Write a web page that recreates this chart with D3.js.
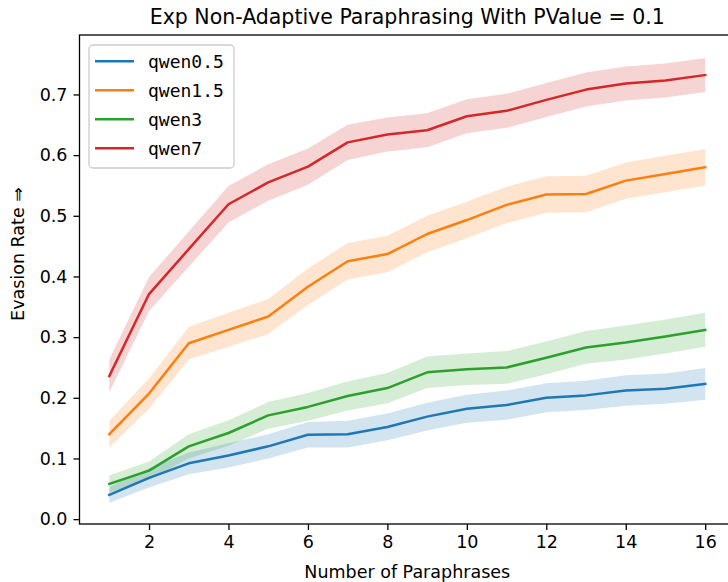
<!DOCTYPE html>
<html><head><meta charset="utf-8">
<script src="https://cdn.jsdelivr.net/npm/d3@7"></script>
<style>body{margin:0;background:#fff}svg{display:block}</style>
</head><body>
<script>
const steps = d3.range(1, 17);
const seriesNames = ["qwen0.5", "qwen1.5", "qwen3", "qwen7"];
const colors = ["#1f77b4", "#ff7f0e", "#2ca02c", "#d62728"];
const qwen05 = [0.040,0.068,0.092,0.105,0.120,0.139,0.140,0.152,0.169,0.182,0.188,0.200,0.204,0.212,0.215,0.223];
const qwen15 = [0.140,0.207,0.290,0.312,0.334,0.383,0.425,0.437,0.470,0.493,0.518,0.535,0.536,0.558,0.569,0.580];
const qwen3  = [0.058,0.080,0.120,0.142,0.171,0.185,0.203,0.216,0.242,0.247,0.250,0.266,0.283,0.291,0.301,0.312];
const qwen7  = [0.236,0.371,0.445,0.519,0.555,0.581,0.621,0.634,0.641,0.664,0.673,0.691,0.708,0.718,0.723,0.732];
const err05 = [0.013,0.016,0.018,0.020,0.020,0.021,0.022,0.022,0.023,0.023,0.024,0.024,0.024,0.025,0.025,0.026];
const err15 = [0.022,0.025,0.027,0.028,0.029,0.030,0.030,0.030,0.030,0.030,0.030,0.030,0.030,0.030,0.030,0.030];
const err3  = [0.014,0.015,0.020,0.021,0.022,0.023,0.024,0.025,0.026,0.026,0.027,0.027,0.027,0.028,0.028,0.028];
const err7  = [0.027,0.028,0.029,0.030,0.030,0.030,0.029,0.028,0.028,0.028,0.028,0.028,0.028,0.028,0.028,0.028];
const xTicks = [2,4,6,8,10,12,14,16];
const yTicks = [0,0.1,0.2,0.3,0.4,0.5,0.6,0.7];
const title = "Exp Non-Adaptive Paraphrasing With PValue = 0.1";
const xLabel = "Number of Paraphrases";
const yLabel = "Evasion Rate \u21D2";

const values = [qwen05, qwen15, qwen3, qwen7];
const errs = [err05, err15, err3, err7];

const W = 728, H = 582;
const L = 79.5, R = 735, T = 35, B = 524;
const svg = d3.select("body").append("svg").attr("width", W).attr("height", H);
const x = d3.scaleLinear().domain([0.25, 16.75]).range([L, R]);
const y = d3.scaleLinear().domain([-0.008, 0.798]).range([B, T]);
const font = "'DejaVu Sans', sans-serif";

const plot = svg.append("g");
// bands
values.forEach((vals, i) => {
  const area = d3.area().x((d, j) => x(steps[j])).y0((d, j) => y(d - errs[i][j])).y1((d, j) => y(d + errs[i][j]));
  plot.append("path").attr("d", area(vals)).attr("fill", colors[i]).attr("fill-opacity", 0.2).attr("stroke", "none");
});
values.forEach((vals, i) => {
  const line = d3.line().x((d, j) => x(steps[j])).y(d => y(d));
  plot.append("path").attr("d", line(vals)).attr("fill", "none").attr("stroke", colors[i]).attr("stroke-width", 2.5).attr("stroke-linejoin", "round").attr("stroke-linecap", "square");
});

// axes
const xAxis = d3.axisBottom(x).tickValues(xTicks).tickSize(6).tickPadding(6).tickFormat(d3.format("d"));
const gx = svg.append("g").attr("transform", `translate(0,${B})`).call(xAxis);
const yAxis = d3.axisLeft(y).tickValues(yTicks).tickSize(6).tickPadding(6).tickFormat(d3.format(".1f"));
const gy = svg.append("g").attr("transform", `translate(${L},0)`).call(yAxis);
[gx, gy].forEach(g => {
  g.selectAll(".domain").remove();
  g.selectAll("line").attr("stroke", "#000").attr("stroke-width", 1.3);
  g.selectAll("text").attr("font-family", font).attr("font-size", 17.5).attr("fill", "#000");
});
// spines
svg.append("rect").attr("x", L).attr("y", T).attr("width", R - L).attr("height", B - T)
  .attr("fill", "none").attr("stroke", "#000").attr("stroke-width", 1.3);

// labels
svg.append("text").attr("x", (L + R) / 2).attr("y", 24).attr("text-anchor", "middle")
  .attr("font-family", font).attr("font-size", 20.5).text(title);
svg.append("text").attr("x", (L + R) / 2).attr("y", 578).attr("text-anchor", "middle")
  .attr("font-family", font).attr("font-size", 17.5).text(xLabel);
svg.append("text").attr("transform", `translate(24,254) rotate(-90)`).attr("text-anchor", "middle")
  .attr("font-family", font).attr("font-size", 17.5).text(yLabel);

// legend
const lg = svg.append("g");
lg.append("rect").attr("x", 89).attr("y", 45).attr("width", 145).attr("height", 123).attr("rx", 4)
  .attr("fill", "#fff").attr("fill-opacity", 0.8).attr("stroke", "#ccc").attr("stroke-width", 1.3);
seriesNames.forEach((n, i) => {
  const yy = 61.3 + i * 29;
  lg.append("line").attr("x1", 95).attr("x2", 134).attr("y1", yy).attr("y2", yy)
    .attr("stroke", colors[i]).attr("stroke-width", 2.5);
  lg.append("text").attr("x", 148).attr("y", yy).attr("dy", "0.35em")
    .attr("font-family", "'DejaVu Sans Mono', monospace").attr("font-size", 18).text(n);
});
</script>
</body></html>
